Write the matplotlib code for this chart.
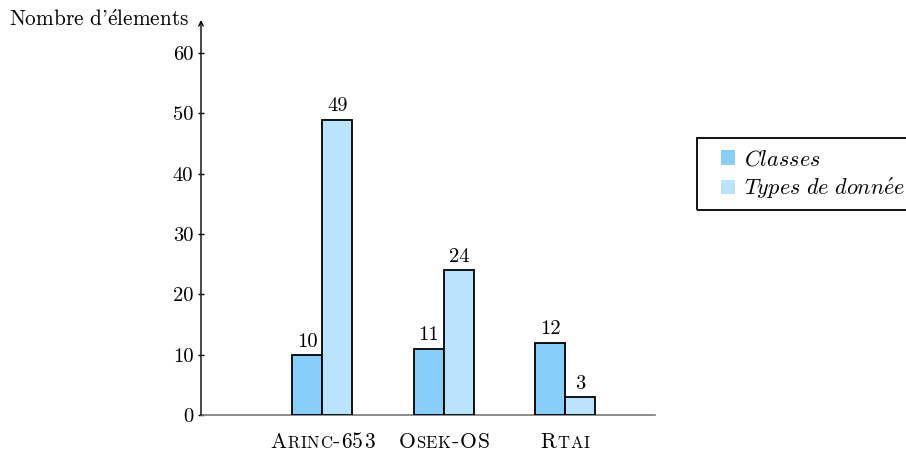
import matplotlib
matplotlib.use("Agg")
import matplotlib.pyplot as plt
import numpy as np
from matplotlib.offsetbox import TextArea, HPacker, AnnotationBbox
from matplotlib.patches import Rectangle

categories = ["Arinc-653", "Osek-OS", "Rtai"]
# small-caps pieces for each category label: (text, is_big)
cat_pieces = [
    [("A", True), ("RINC", False), ("-", True), ("653", True)],
    [("O", True), ("SEK", False), ("-", True), ("OS", True)],
    [("R", True), ("TAI", False)],
]
classes = [10, 11, 12]
types_donnee = [49, 24, 3]
series_labels = [r"$Classes$", r"$Types\ de\ donn\acute{e}e$"]
yticks = [0, 10, 20, 30, 40, 50, 60]
ylabel = r"Nombre d'$\mathrm{\acute{e}}$lements"

plt.rcParams["font.family"] = ["cmr10", "DejaVu Serif"]
plt.rcParams["mathtext.fontset"] = "cm"
plt.rcParams["axes.formatter.use_mathtext"] = True

W, H = 906, 451
fig = plt.figure(figsize=(W / 100, H / 100), dpi=100)
ax = fig.add_axes([201 / W, 1 - 415 / H, (655 - 201) / W, (415 - 20) / H])

c1 = "#87CEFA"
c2 = "#BAE4FC"
x = np.arange(len(categories))
w = 0.247
fs = 14.8
b1 = ax.bar(x - w / 2, classes, w, color=c1, edgecolor="black", linewidth=1.3, zorder=3)
b2 = ax.bar(x + w / 2, types_donnee, w, color=c2, edgecolor="black", linewidth=1.3, zorder=3)
for bars, vals in ((b1, classes), (b2, types_donnee)):
    for r, v in zip(bars, vals):
        ax.annotate(str(v), (r.get_x() + r.get_width() / 2, v), xytext=(0, 3),
                    textcoords="offset points", ha="center", va="bottom", fontsize=fs)

ax.set_xlim(-1, 2.74)
ax.set_ylim(0, 65.5)
ax.set_yticks(yticks)
ax.set_yticklabels([str(t) for t in yticks], fontsize=fs)
ax.tick_params(axis="y", direction="inout", length=5, width=1, color="black", pad=3)
ax.set_xticks([])
for s in ("top", "right", "left"):
    ax.spines[s].set_visible(False)
ax.spines["bottom"].set_color("#7a7a7a")
ax.spines["bottom"].set_linewidth(1.2)
ax.annotate("", xy=(0, 1), xycoords="axes fraction", xytext=(0, 0),
            textcoords="axes fraction",
            arrowprops=dict(arrowstyle="->", color="black", lw=1.0,
                            shrinkA=0, shrinkB=0, mutation_scale=8))

# small-caps category labels (letter by letter, with tracking)
big, small = 15.5, 12.0
for i, pieces in enumerate(cat_pieces):
    areas = []
    for t, b in pieces:
        for ch in t:
            areas.append(TextArea(ch, textprops=dict(fontsize=big if b else small)))
    pack = HPacker(children=areas, align="baseline", pad=0, sep=0.55)
    ab = AnnotationBbox(pack, (x[i], 0), xycoords=ax.get_xaxis_transform(),
                        xybox=(0, -19.5), boxcoords="offset points",
                        box_alignment=(0.5, 0.5), frameon=False)
    ax.add_artist(ab)

fig.text(189 / W, 1 - 20 / H, ylabel, ha="right", va="center", fontsize=15.3)

# legend
leg = fig.legend([b1, b2], series_labels, loc="upper left",
                 bbox_to_anchor=(721 / W, 1 - 149 / H), frameon=False,
                 fontsize=16.0, handlelength=0.64, handleheight=0.64,
                 handletextpad=0.4, labelspacing=0.3, borderpad=0, borderaxespad=0)
for h in leg.legend_handles:
    h.set_edgecolor("none")
fig.patches.append(Rectangle((697 / W, 1 - 210 / H), 260 / W, 72 / H,
                             transform=fig.transFigure, fill=False,
                             edgecolor="black", linewidth=1.3))

fig.savefig("out.png", dpi=100)
